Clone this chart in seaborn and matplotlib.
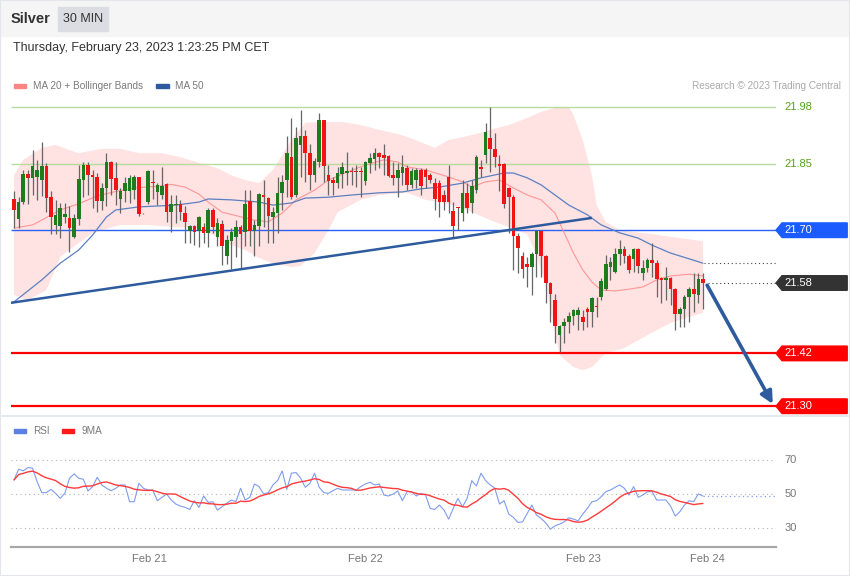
import numpy as np
import pandas as pd
import seaborn as sns
import matplotlib.pyplot as plt
from matplotlib.patches import Rectangle, Polygon
from matplotlib.lines import Line2D

sns.set_theme(style='white')
plt.rcParams['font.family'] = ['Liberation Sans', 'DejaVu Sans']

# ---------------- data (Silver, 30 min candles) ----------------
opens = [21.770, 21.725, 21.765, 21.827, 21.818, 21.822, 21.814, 21.846, 21.776, 21.711,
         21.710, 21.729, 21.727, 21.685, 21.725, 21.814, 21.848, 21.826, 21.822, 21.766,
         21.795, 21.854, 21.818, 21.771, 21.788, 21.788, 21.791, 21.820, 21.739, 21.763,
         21.810, 21.786, 21.780, 21.805, 21.742, 21.757, 21.760, 21.740, 21.699, 21.710,
         21.699, 21.708, 21.693, 21.746, 21.684, 21.714, 21.642, 21.676, 21.685, 21.708,
         21.697, 21.766, 21.698, 21.710, 21.780, 21.774, 21.731, 21.740, 21.784, 21.814,
         21.867, 21.780, 21.894, 21.914, 21.876, 21.826, 21.856, 21.951, 21.826, 21.814,
         21.808, 21.828, 21.829, 21.835, 21.835, 21.834, 21.812, 21.853, 21.861, 21.876,
         21.871, 21.869, 21.825, 21.819, 21.831, 21.841, 21.803, 21.813, 21.837, 21.837,
         21.826, 21.807, 21.807, 21.780, 21.822, 21.744, 21.751, 21.738, 21.785, 21.762,
         21.791, 21.844, 21.871, 21.909, 21.884, 21.850, 21.850, 21.795, 21.775, 21.687,
         21.641, 21.623, 21.617, 21.646, 21.699, 21.641, 21.581, 21.541, 21.462, 21.482,
         21.492, 21.505, 21.507, 21.502, 21.521, 21.515, 21.526, 21.549, 21.566, 21.617,
         21.606, 21.647, 21.657, 21.641, 21.634, 21.657, 21.602, 21.613, 21.632, 21.626,
         21.591, 21.587, 21.591, 21.566, 21.510, 21.520, 21.549, 21.566, 21.553, 21.588]
highs = [21.788, 21.775, 21.837, 21.837, 21.882, 21.860, 21.901, 21.852, 21.788, 21.769,
         21.761, 21.761, 21.754, 21.737, 21.848, 21.856, 21.856, 21.837, 21.829, 21.807,
         21.875, 21.858, 21.856, 21.795, 21.822, 21.826, 21.826, 21.822, 21.740, 21.837,
         21.837, 21.807, 21.844, 21.808, 21.780, 21.780, 21.769, 21.754, 21.712, 21.712,
         21.733, 21.716, 21.750, 21.750, 21.727, 21.723, 21.689, 21.704, 21.723, 21.712,
         21.791, 21.791, 21.723, 21.784, 21.814, 21.776, 21.753, 21.822, 21.825, 21.913,
         21.954, 21.935, 21.973, 21.928, 21.897, 21.863, 21.966, 21.951, 21.848, 21.822,
         21.844, 21.856, 21.878, 21.844, 21.848, 21.844, 21.857, 21.875, 21.886, 21.878,
         21.897, 21.871, 21.856, 21.852, 21.871, 21.848, 21.841, 21.841, 21.841, 21.841,
         21.829, 21.818, 21.814, 21.791, 21.848, 21.765, 21.753, 21.814, 21.807, 21.815,
         21.871, 21.860, 21.944, 21.979, 21.920, 21.871, 21.852, 21.799, 21.780, 21.693,
         21.651, 21.640, 21.651, 21.700, 21.700, 21.644, 21.583, 21.556, 21.484, 21.500,
         21.515, 21.522, 21.526, 21.519, 21.526, 21.549, 21.549, 21.591, 21.644, 21.640,
         21.659, 21.678, 21.663, 21.646, 21.659, 21.659, 21.632, 21.636, 21.670, 21.632,
         21.594, 21.617, 21.594, 21.568, 21.526, 21.553, 21.572, 21.602, 21.602, 21.602]
lows = [21.704, 21.704, 21.760, 21.760, 21.780, 21.769, 21.778, 21.742, 21.691, 21.691,
        21.682, 21.716, 21.651, 21.683, 21.712, 21.776, 21.780, 21.750, 21.741, 21.746,
        21.754, 21.780, 21.757, 21.738, 21.765, 21.761, 21.772, 21.733, 21.737, 21.760,
        21.772, 21.757, 21.772, 21.719, 21.697, 21.717, 21.724, 21.672, 21.672, 21.666,
        21.661, 21.672, 21.661, 21.693, 21.663, 21.621, 21.623, 21.611, 21.640, 21.611,
        21.663, 21.663, 21.642, 21.663, 21.708, 21.670, 21.670, 21.693, 21.746, 21.776,
        21.772, 21.776, 21.822, 21.810, 21.791, 21.810, 21.844, 21.810, 21.780, 21.780,
        21.795, 21.795, 21.803, 21.803, 21.799, 21.776, 21.803, 21.829, 21.837, 21.841,
        21.825, 21.822, 21.803, 21.776, 21.803, 21.791, 21.795, 21.797, 21.780, 21.797,
        21.807, 21.746, 21.731, 21.746, 21.738, 21.685, 21.701, 21.720, 21.738, 21.738,
        21.785, 21.820, 21.852, 21.833, 21.844, 21.790, 21.750, 21.693, 21.609, 21.602,
        21.591, 21.572, 21.553, 21.594, 21.594, 21.534, 21.492, 21.443, 21.424, 21.443,
        21.466, 21.485, 21.473, 21.473, 21.481, 21.481, 21.503, 21.541, 21.564, 21.587,
        21.602, 21.621, 21.625, 21.602, 21.606, 21.602, 21.587, 21.606, 21.594, 21.549,
        21.534, 21.541, 21.530, 21.473, 21.481, 21.481, 21.492, 21.515, 21.534, 21.522]
closes = [21.746, 21.765, 21.827, 21.818, 21.846, 21.837, 21.846, 21.774, 21.731, 21.734,
          21.750, 21.737, 21.705, 21.727, 21.816, 21.848, 21.826, 21.822, 21.767, 21.797,
          21.854, 21.816, 21.791, 21.788, 21.808, 21.819, 21.822, 21.737, 21.738, 21.835,
          21.807, 21.803, 21.800, 21.742, 21.760, 21.760, 21.741, 21.719, 21.710, 21.697,
          21.731, 21.693, 21.746, 21.707, 21.716, 21.664, 21.678, 21.696, 21.708, 21.691,
          21.760, 21.698, 21.712, 21.782, 21.775, 21.733, 21.742, 21.785, 21.810, 21.875,
          21.776, 21.909, 21.913, 21.875, 21.826, 21.857, 21.951, 21.846, 21.812, 21.808,
          21.829, 21.844, 21.835, 21.832, 21.833, 21.833, 21.854, 21.865, 21.875, 21.866,
          21.863, 21.823, 21.819, 21.837, 21.844, 21.803, 21.835, 21.837, 21.801, 21.820,
          21.814, 21.770, 21.765, 21.765, 21.763, 21.710, 21.750, 21.785, 21.750, 21.800,
          21.866, 21.839, 21.924, 21.884, 21.866, 21.847, 21.760, 21.776, 21.687, 21.659,
          21.611, 21.616, 21.647, 21.699, 21.641, 21.581, 21.554, 21.482, 21.482, 21.492,
          21.506, 21.519, 21.519, 21.492, 21.513, 21.547, 21.525, 21.585, 21.623, 21.627,
          21.647, 21.657, 21.641, 21.610, 21.657, 21.619, 21.613, 21.632, 21.625, 21.588,
          21.587, 21.591, 21.566, 21.510, 21.522, 21.549, 21.566, 21.555, 21.588, 21.579]

# Bollinger band edges and moving averages (candle index -> price)
upper_idx = [0, 2, 6, 9, 12, 14, 19, 23, 27, 32, 36, 40, 44, 47, 50, 53, 56, 60, 63, 66,
             71, 75, 79, 84, 88, 91, 94, 99, 103, 107, 111, 114, 117, 120, 121, 123, 125, 126,
             128, 131, 138, 144, 149]
upper = [21.825, 21.860, 21.887, 21.894, 21.882, 21.875, 21.885, 21.885, 21.875, 21.875,
         21.866, 21.853, 21.841, 21.825, 21.814, 21.807, 21.837, 21.905, 21.944, 21.946,
         21.946, 21.939, 21.928, 21.916, 21.900, 21.887, 21.905, 21.916, 21.928, 21.939,
         21.955, 21.969, 21.978, 21.980, 21.962, 21.905, 21.825, 21.757, 21.719, 21.700,
         21.691, 21.682, 21.675]
lower_idx = [0, 3, 7, 10, 14, 17, 23, 29, 35, 40, 43, 47, 50, 53, 56, 60, 62, 65, 68, 70,
             75, 79, 85, 89, 94, 98, 103, 107, 111, 113, 115, 117, 118, 121, 123, 125, 128,
             132, 135, 139, 142, 146, 149]
lower = [21.553, 21.541, 21.564, 21.639, 21.671, 21.694, 21.712, 21.712, 21.707, 21.705,
         21.689, 21.666, 21.655, 21.637, 21.625, 21.616, 21.619, 21.648, 21.700, 21.741,
         21.769, 21.780, 21.785, 21.769, 21.760, 21.746, 21.723, 21.707, 21.691, 21.644,
         21.575, 21.466, 21.416, 21.389, 21.382, 21.389, 21.421, 21.432, 21.450, 21.473,
         21.489, 21.503, 21.512]
ma20_idx = [0, 4, 6, 10, 14, 18, 22, 26, 31, 34, 37, 40, 42, 45, 50, 52, 55, 58, 61, 65,
            68, 72, 76, 80, 83, 85, 89, 94, 97, 99, 102, 105, 108, 111, 114, 117, 119, 121,
            123, 125, 127, 130, 133, 136, 139, 142, 146, 149]
ma20 = [21.705, 21.712, 21.723, 21.746, 21.760, 21.778, 21.788, 21.796, 21.800, 21.804,
        21.798, 21.782, 21.764, 21.741, 21.728, 21.723, 21.719, 21.739, 21.769, 21.791,
        21.814, 21.832, 21.848, 21.860, 21.855, 21.844, 21.837, 21.821, 21.810, 21.798,
        21.810, 21.814, 21.796, 21.780, 21.769, 21.739, 21.694, 21.648, 21.610, 21.582,
        21.564, 21.562, 21.566, 21.571, 21.587, 21.596, 21.600, 21.596]
ma50_idx = [0, 6, 10, 14, 17, 20, 22, 27, 31, 35, 40, 42, 47, 53, 56, 60, 63, 68, 73, 79,
            84, 88, 92, 97, 101, 106, 108, 111, 114, 117, 120, 124, 127, 131, 135, 138, 142,
            146, 149]
ma50 = [21.537, 21.587, 21.625, 21.655, 21.689, 21.730, 21.746, 21.753, 21.755, 21.757,
        21.764, 21.771, 21.769, 21.764, 21.757, 21.762, 21.773, 21.775, 21.780, 21.785,
        21.787, 21.794, 21.798, 21.807, 21.819, 21.830, 21.830, 21.819, 21.803, 21.780,
        21.757, 21.735, 21.712, 21.694, 21.682, 21.666, 21.648, 21.635, 21.625]

rsi = [58.4, 64.8, 63.8, 65.8, 65.4, 57.4, 50.8, 50.8, 52.8, 50.4,
       47.4, 50.4, 59.4, 62.0, 59.4, 58.8, 51.8, 54.4, 60.0, 55.4,
       53.4, 52.0, 53.4, 55.4, 55.4, 45.4, 45.4, 56.4, 53.4, 52.4,
       52.4, 46.0, 48.0, 50.0, 46.4, 44.0, 42.8, 42.0, 40.8, 46.0,
       42.0, 48.8, 45.0, 45.4, 40.4, 42.4, 44.4, 46.4, 45.4, 53.4,
       46.4, 48.0, 56.0, 54.4, 50.0, 50.8, 55.4, 58.0, 63.8, 52.8,
       62.4, 62.8, 59.4, 54.0, 56.4, 62.4, 54.0, 50.8, 50.4, 52.0,
       53.4, 52.4, 52.4, 52.4, 52.4, 54.4, 56.0, 57.0, 55.4, 56.0,
       49.4, 48.8, 50.0, 51.8, 46.0, 51.4, 51.4, 48.8, 50.4, 49.4,
       41.4, 40.8, 43.4, 40.4, 35.0, 41.4, 47.4, 42.4, 47.4, 58.0,
       54.8, 62.4, 58.0, 55.4, 53.4, 44.0, 46.0, 38.0, 36.0, 33.0,
       33.4, 38.4, 43.4, 37.4, 35.4, 32.8, 29.0, 31.0, 32.0, 33.4,
       35.8, 35.0, 34.0, 38.0, 41.4, 45.4, 46.0, 48.4, 51.4, 52.4,
       54.0, 55.4, 53.4, 49.4, 54.4, 48.0, 49.4, 51.4, 51.4, 46.4,
       46.4, 46.4, 42.8, 36.8, 39.4, 43.4, 46.0, 45.4, 50.0, 48.8]

levels_green = [21.98, 21.85]
level_tags = [21.70, 21.58, 21.42, 21.30]
tag_colors = ['#1c5cff', '#333333', '#ff0000', '#ff0000']
day_pos = [29.2, 76.1, 123.1, 149.9]
day_labels = ['Feb 21', 'Feb 22', 'Feb 23', 'Feb 24']
rsi_levels = [70, 50, 30]

# ---------------- figure ----------------
W, H = 850, 576
fig = plt.figure(figsize=(W / 100, H / 100), dpi=100)
fig.patch.set_facecolor('white')


def fx(px):
    return px / W


def fy(py):
    return 1 - py / H


XMIN, XMAX = -0.65, 164.8
XR = 180.2   # right end of the price tags (data units)

# header
fig.patches.append(Rectangle((0, fy(36)), 1, 36 / H, transform=fig.transFigure,
                             color='#f5f5f5', zorder=0))
fig.patches.append(Rectangle((fx(58), fy(31)), 50 / W, 24 / H, transform=fig.transFigure,
                             color='#dcdde2', zorder=1))
fig.text(fx(11), fy(19), 'Silver', fontsize=10.5, fontweight='bold', color='#333333', va='center')
fig.text(fx(83), fy(19), '30 MIN', fontsize=9, color='#333333', va='center', ha='center')
fig.text(fx(13), fy(48), 'Thursday, February 23, 2023 1:23:25 PM CET', fontsize=9,
         color='#333333', va='center')

# legends
fig.patches.append(Rectangle((fx(14), fy(88)), 12 / W, 4 / H, transform=fig.transFigure, color='#ff8585'))
fig.text(fx(33), fy(86), 'MA 20 + Bollinger Bands', fontsize=7.2, color='#7a7a7a', va='center')
fig.patches.append(Rectangle((fx(156), fy(88)), 13 / W, 4 / H, transform=fig.transFigure, color='#2f5a9e'))
fig.text(fx(175), fy(86), 'MA 50', fontsize=7.2, color='#7a7a7a', va='center')
fig.text(fx(841), fy(86), 'Research \u00a9 2023 Trading Central', fontsize=7.2, color='#aaaaaa',
         va='center', ha='right')

fig.patches.append(Rectangle((fx(14), fy(433)), 12 / W, 4 / H, transform=fig.transFigure, color='#5b7fe6'))
fig.text(fx(33), fy(431), 'RSI', fontsize=7.2, color='#7a7a7a', va='center')
fig.patches.append(Rectangle((fx(62), fy(433)), 12 / W, 4 / H, transform=fig.transFigure, color='#ff1a1a'))
fig.text(fx(82), fy(431), '9MA', fontsize=7.2, color='#7a7a7a', va='center')

fig.lines.append(Line2D([0, 1], [fy(416), fy(416)], transform=fig.transFigure, color='#e6e9ee', lw=1.5))
fig.patches.append(Rectangle((0, 0), 1, 1, transform=fig.transFigure, fill=False,
                             edgecolor='#e3e6ea', lw=1.5))

# ---------------- price panel ----------------
ax = fig.add_axes([fx(11), fy(415), fx(776) - fx(11), fy(95) - fy(415)])
ax.set_xlim(XMIN, XMAX)
ax.set_ylim(21.28, 22.0073)
ax.axis('off')

# bollinger band
ax.fill(np.r_[upper_idx, lower_idx[::-1]], np.r_[upper, lower[::-1]],
        color='#ffe2e2', lw=0, zorder=1)

# levels
ax.hlines(levels_green, XMIN, XMAX, color='#b6dc9e', lw=1.0, zorder=2)
for lv in levels_green:
    ax.text(166.7, lv, f'{lv:.2f}', color='#57a317', fontsize=8, va='center', clip_on=False)
ax.hlines(21.70, XMIN, XMAX, color='#2a63f5', lw=1.0, zorder=2)
ax.hlines([21.42, 21.30], XMIN, XMAX, color='#ff0000', lw=1.6, zorder=2)

hh = 0.0166
for lv, col in zip(level_tags, tag_colors):
    poly = Polygon([(XMAX, lv), (166.1, lv + hh), (XR, lv + hh), (XR, lv - hh), (166.1, lv - hh)],
                   closed=True, color=col, clip_on=False, zorder=6)
    ax.add_patch(poly)
    ax.text(166.7, lv, f'{lv:.2f}', color='white', fontsize=8, va='center', clip_on=False, zorder=7)

# moving averages
sns.lineplot(x=np.array(ma20_idx), y=np.array(ma20), ax=ax, color='#ff9696', lw=0.8, zorder=3)
sns.lineplot(x=np.array(ma50_idx), y=np.array(ma50), ax=ax, color='#5b80c2', lw=0.9, zorder=3)
ax.axis('off')

# candles
df = pd.DataFrame({'o': opens, 'h': highs, 'l': lows, 'c': closes})
df['i'] = np.arange(len(df))
up = df.c >= df.o
ax.vlines(df.i, df.l, df.h, color='#666666', lw=0.9, zorder=4)
ax.bar(df.i, (df.c - df.o).abs().clip(lower=0.002), bottom=np.minimum(df.o, df.c), width=0.78,
       color=np.where(up, '#1e7b1e', '#f01414'), lw=0, zorder=5)

# dotted extensions of last close and MA50
ax.hlines(ma50[-1], 149.2, XMAX, color='#444444', lw=0.8, linestyles=(0, (1, 2.5)), zorder=3)
ax.hlines(closes[-1], 150.0, XMAX, color='#444444', lw=0.8, linestyles=(0, (1, 2.5)), zorder=3)

# trend line and target arrow
ax.plot([XMIN, 125.0], [21.535, 21.728], color='#2e5b9d', lw=1.8, zorder=6, solid_capstyle='butt')
ax.annotate('', xy=(164.1, 21.305), xytext=(149.9, 21.575),
            arrowprops=dict(arrowstyle='-|>', color='#2e5b9d', lw=2.6, mutation_scale=18,
                            shrinkA=0, shrinkB=0),
            annotation_clip=False, zorder=7)

# ---------------- RSI panel ----------------
ax2 = fig.add_axes([fx(11), fy(547), fx(776) - fx(11), fy(445) - fy(547)])
ax2.set_xlim(XMIN, XMAX)
ax2.set_ylim(18.36, 79.25)
ax2.hlines(rsi_levels, XMIN, XMAX, color='#b4b4b4', lw=0.8, linestyles=(0, (1, 3)), zorder=1)
for lv in rsi_levels:
    ax2.text(166.7, lv, str(lv), color='#777777', fontsize=8, va='center', clip_on=False)

idx = np.arange(len(rsi))
rsi_ma = pd.Series(rsi).rolling(9, min_periods=1).mean().to_numpy()
sns.lineplot(x=idx, y=np.array(rsi), ax=ax2, color='#7f9cf0', lw=0.8, zorder=3)
sns.lineplot(x=idx, y=rsi_ma, ax=ax2, color='#ff3b3b', lw=1.0, zorder=4)
ax2.hlines(rsi[-1], 149.0, XMAX, color='#7f9cf0', lw=0.9, linestyles=(0, (1, 2.5)), zorder=3)

for s in ['top', 'left', 'right']:
    ax2.spines[s].set_visible(False)
ax2.spines['bottom'].set_color('#a8a8a8')
ax2.spines['bottom'].set_linewidth(1.6)
ax2.set_xticks(day_pos)
ax2.set_xticklabels(day_labels, fontsize=8, color='#777777')
ax2.set_xticks([XMIN + 0.15, XMAX - 0.15], minor=True)
ax2.tick_params(axis='x', which='major', length=0, pad=5)
ax2.tick_params(axis='x', which='minor', length=4, width=1.4, color='#a8a8a8', direction='out')
ax2.set_yticks([])
ax2.set_xlabel('')
ax2.set_ylabel('')
ax2.set_facecolor('none')

fig.savefig('out.png', dpi=100)
